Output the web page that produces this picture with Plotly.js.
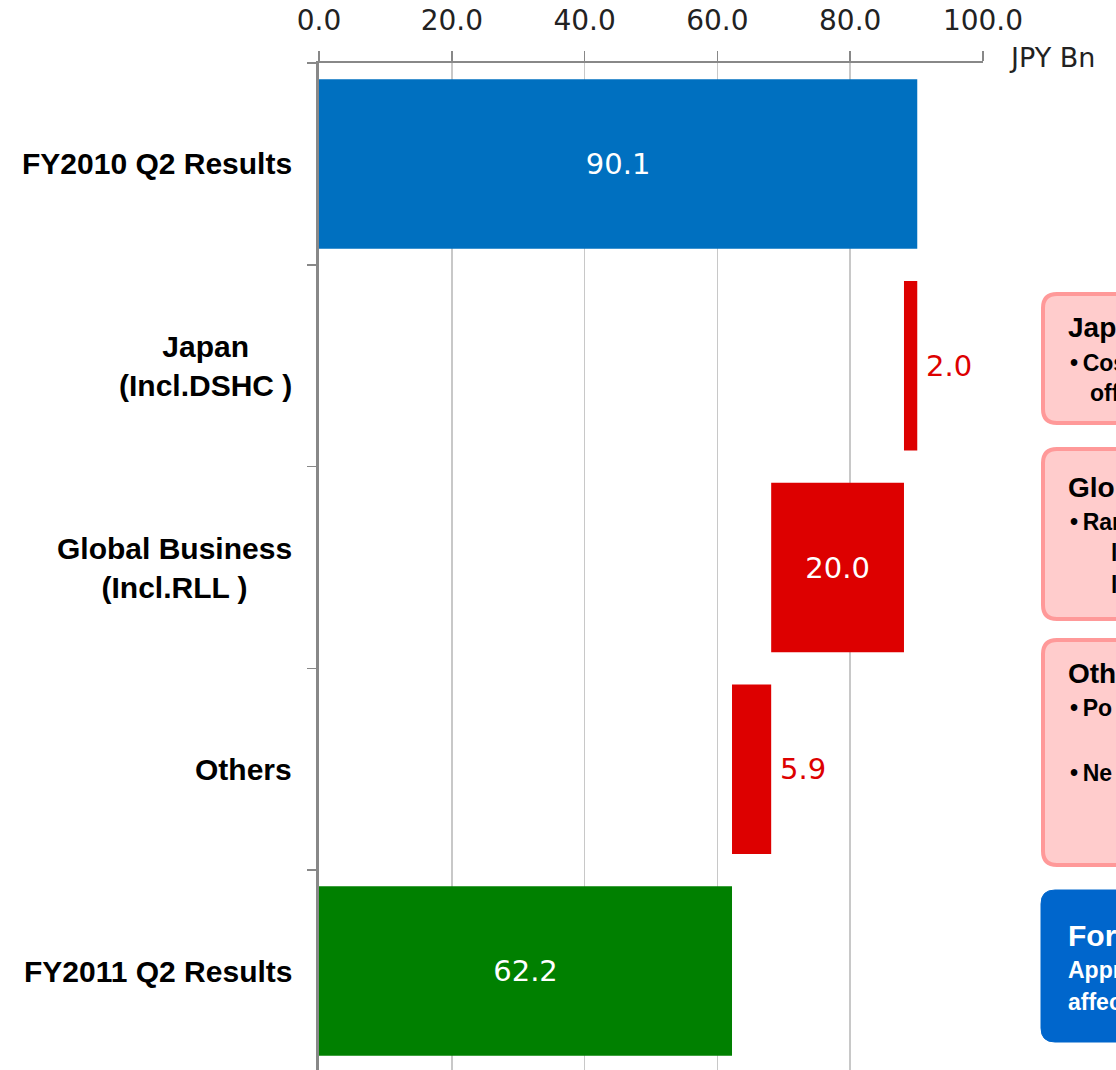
<!DOCTYPE html>
<html>
<head>
<meta charset="utf-8">
<script src="https://cdn.plot.ly/plotly-3.0.1.min.js"></script>
<style>html,body{margin:0;padding:0;background:#fff;overflow:hidden;}#chart{width:1116px;height:1072px;}</style>
</head>
<body>
<div id="chart"></div>
<script>
// ---- data ----
const categories = ["FY2010 Q2 Results", "Japan (Incl.DSHC)", "Global Business (Incl.RLL)", "Others", "FY2011 Q2 Results"];
const categoryLabels = ["FY2010 Q2 Results", "Japan<br>(Incl.DSHC )", "Global Business<br>(Incl.RLL )", "Others", "FY2011 Q2 Results"];
const changes = [90.1, -2.0, -20.0, -5.9, 62.2];
const kinds = ["total", "delta", "delta", "delta", "total"];
const barColors = ["#0070C0", "#DD0000", "#DD0000", "#DD0000", "#008000"];
const labelPositions = ["inside", "outside", "inside", "outside", "inside"];
const labelColors = ["#ffffff", "#DD0000", "#ffffff", "#DD0000", "#ffffff"];
const xTickValues = [0, 20, 40, 60, 80, 100];
const unitLabel = "JPY Bn";

// ---- waterfall geometry from data ----
let running = 0;
const bases = [], lengths = [], texts = [];
changes.forEach((v, i) => {
  if (kinds[i] === "total") {
    bases.push(0); lengths.push(v); running = v;
  } else {
    const end = running + v;
    bases.push(Math.min(running, end)); lengths.push(Math.abs(v)); running = end;
  }
  const t = Math.abs(v).toFixed(1);
  texts.push(labelPositions[i] === "outside" ? "\u2009" + t : t);
});

// ---- layout helpers (pixel -> paper) ----
const W = 1116, H = 1072, ML = 319, MR = 133, MT = 63, MB = 0;
const PW = W - ML - MR, PH = H - MT - MB;
const X = px => (px - ML) / PW;
const Y = py => (H - MB - py) / PH;

function roundBox(x1, y1, y2, r) {
  const xr = 1160;
  return `M ${X(x1 + r)},${Y(y1)} L ${X(xr)},${Y(y1)} L ${X(xr)},${Y(y2)} L ${X(x1 + r)},${Y(y2)} ` +
         `Q ${X(x1)},${Y(y2)} ${X(x1)},${Y(y2 - r)} L ${X(x1)},${Y(y1 + r)} Q ${X(x1)},${Y(y1)} ${X(x1 + r)},${Y(y1)} Z`;
}

const shapes = [
  {type: "path", xref: "paper", yref: "paper", path: roundBox(1043, 294, 423, 14), fillcolor: "#FFCCCC", line: {color: "#FF9999", width: 4}},
  {type: "path", xref: "paper", yref: "paper", path: roundBox(1043, 449, 619, 14), fillcolor: "#FFCCCC", line: {color: "#FF9999", width: 4}},
  {type: "path", xref: "paper", yref: "paper", path: roundBox(1043, 640, 865, 14), fillcolor: "#FFCCCC", line: {color: "#FF9999", width: 4}},
  {type: "path", xref: "paper", yref: "paper", path: roundBox(1041, 890, 1042, 14), fillcolor: "#0066CC", line: {color: "#0066CC", width: 1}}
];

const boxFont = "Liberation Sans, Arial, sans-serif";
function boxText(text, px, py, size, color) {
  return {xref: "paper", yref: "paper", x: X(px), y: Y(py), xanchor: "left", yanchor: "middle",
          text: "<b>" + text + "</b>", showarrow: false, align: "left",
          font: {family: boxFont, size: size, color: color}};
}

const annotations = [];
categories.forEach((c, i) => {
  annotations.push({xref: "paper", yref: "y", x: 0, y: c, xanchor: "right", yanchor: "middle",
    xshift: -25, text: "<b>" + categoryLabels[i] + "</b>", showarrow: false, align: "center",
    font: {family: "Liberation Sans, Arial, sans-serif", size: 30, color: "#000"}});
});
annotations.push({xref: "paper", yref: "paper", x: 1, y: 1, xanchor: "left", yanchor: "middle",
  xshift: 24, yshift: 6, text: unitLabel, showarrow: false,
  font: {family: "DejaVu Sans, sans-serif", size: 27, color: "#222"}});

annotations.push(boxText("Japan", 1066, 328, 28, "#000"));
annotations.push(boxText("•\u2009Cost", 1068, 363, 23, "#000"));
annotations.push(boxText("offset", 1088, 393, 23, "#000"));
annotations.push(boxText("Global Business", 1066, 487, 28, "#000"));
annotations.push(boxText("•\u2009Ranbaxy", 1068, 522, 23, "#000"));
annotations.push(boxText("l", 1109, 553, 23, "#000"));
annotations.push(boxText("l", 1109, 585, 23, "#000"));
annotations.push(boxText("Others", 1066, 674, 28, "#000"));
annotations.push(boxText("•\u2009Po", 1068, 708, 23, "#000"));
annotations.push(boxText("•\u2009Ne", 1068, 773, 23, "#000"));
annotations.push(boxText("Forex", 1066, 935, 30, "#fff"));
annotations.push(boxText("Approx.", 1066, 970, 23, "#fff"));
annotations.push(boxText("affected", 1066, 1002, 23, "#fff"));

const trace = {
  type: "bar", orientation: "h",
  y: categories, x: lengths, base: bases,
  marker: {color: barColors, line: {width: 0}},
  text: texts, textposition: labelPositions, insidetextanchor: "middle",
  textfont: {family: "DejaVu Sans, sans-serif", size: 29, color: labelColors},
  constraintext: "none", cliponaxis: false, hoverinfo: "skip"
};

const layout = {
  width: W, height: H, autosize: false,
  margin: {l: ML, r: MR, t: MT, b: MB, pad: 0},
  paper_bgcolor: "#fff", plot_bgcolor: "#fff",
  showlegend: false, bargap: 0.16,
  font: {family: "DejaVu Sans, sans-serif", color: "#222"},
  xaxis: {side: "top", range: [0, 100], tickvals: xTickValues, tickformat: ".1f",
    showgrid: true, gridcolor: "#C8C8C8", gridwidth: 1.5, zeroline: false,
    showline: true, linecolor: "#888", linewidth: 2,
    ticks: "outside", ticklen: 10, tickcolor: "#888", tickwidth: 1.5, ticklabelstandoff: 10,
    tickfont: {family: "DejaVu Sans, sans-serif", size: 28, color: "#222"}, fixedrange: true},
  yaxis: {type: "category", autorange: "reversed", showticklabels: false,
    tickson: "boundaries", ticks: "outside", ticklen: 9, tickcolor: "#888", tickwidth: 1.5,
    showline: true, linecolor: "#888", linewidth: 3, showgrid: false, zeroline: false, fixedrange: true},
  shapes: shapes, annotations: annotations
};

Plotly.newPlot("chart", [trace], layout, {displayModeBar: false, staticPlot: true});
</script>
</body>
</html>
